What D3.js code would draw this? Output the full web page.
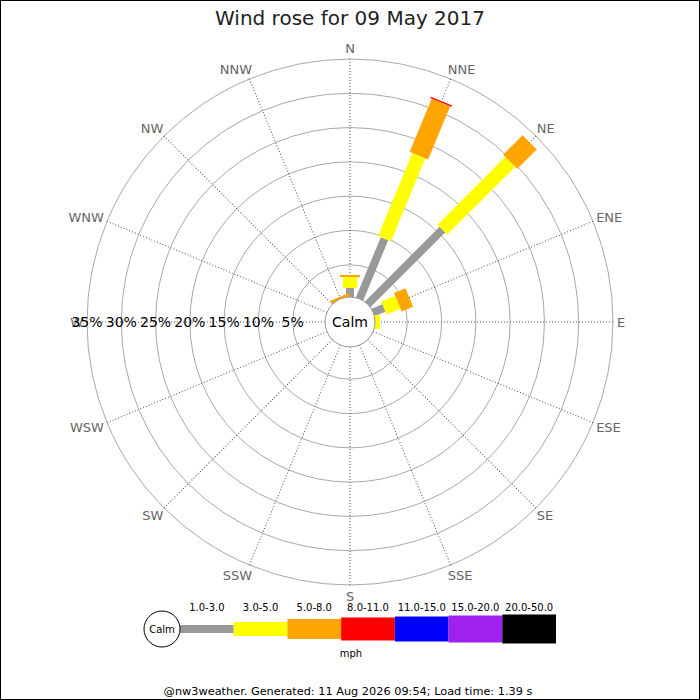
<!DOCTYPE html>
<html>
<head>
<meta charset="utf-8">
<script src="https://cdn.jsdelivr.net/npm/d3@7"></script>
<style>
body { margin: 0; background: #fff; }
text { font-family: "DejaVu Sans", sans-serif; }
</style>
</head>
<body>
<div id="wrapper"></div>
<script>
var width = 700, height = 700;
var cx = 350, cy = 322;
var calmR = 25;

// 16 compass points, clockwise from N
var directions = ["N", "NNE", "NE", "ENE", "E", "ESE", "SE", "SSE",
                  "S", "SSW", "SW", "WSW", "W", "WNW", "NW", "NNW"];

// speed bands (mph) and their colours
var bands = ["1.0-3.0", "3.0-5.0", "5.0-8.0", "8.0-11.0", "11.0-15.0", "15.0-20.0", "20.0-50.0"];
var bandColours = ["#999999", "#ffff00", "#ffa500", "#ff0000", "#0000ff", "#a020f0", "#000000"];

// percentage of the day in each band, per direction (order as directions)
var band1 = [1.6, 9.8, 15.7, 2.0, 0, 0, 0, 0, 0, 0, 0, 0, 0, 0, 0, 0];
var band2 = [1.6, 13.1, 14.0, 2.2, 1.0, 0, 0, 0, 0, 0, 0, 0, 0, 0, 0, 0];
var band3 = [0.3, 8.4, 4.0, 1.8, 0, 0, 0, 0, 0, 0, 0, 0, 0, 0, 0, 0.6];
var band4 = [0, 0.2, 0, 0, 0, 0, 0, 0, 0, 0, 0, 0, 0, 0, 0, 0];
var band5 = [0, 0, 0, 0, 0, 0, 0, 0, 0, 0, 0, 0, 0, 0, 0, 0];
var band6 = [0, 0, 0, 0, 0, 0, 0, 0, 0, 0, 0, 0, 0, 0, 0, 0];
var band7 = [0, 0, 0, 0, 0, 0, 0, 0, 0, 0, 0, 0, 0, 0, 0, 0];
var bandValues = [band1, band2, band3, band4, band5, band6, band7];

var ringTicks = [5, 10, 15, 20, 25, 30, 35];

var svg = d3.select("#wrapper")
    .append("svg")
    .attr("width", width)
    .attr("height", height);

svg.append("rect")
    .attr("x", 0.5).attr("y", 0.5)
    .attr("width", width - 1).attr("height", height - 1)
    .attr("fill", "#fff")
    .attr("stroke", "#000");

svg.append("text")
    .attr("x", 350)
    .attr("y", 25)
    .attr("text-anchor", "middle")
    .style("font-size", "20px")
    .style("fill", "#222")
    .text("Wind rose for 09 May 2017");

var r = d3.scaleLinear().domain([0, 35]).range([23, 263]);
var angle = d3.scalePoint().domain(directions).range([0, 337.5]);
var barWidth = d3.scaleOrdinal().domain(bands).range([8, 14, 20, 23, 25, 27, 29]);

var rose = svg.append("g")
    .attr("transform", "translate(" + cx + "," + cy + ")");

// rings
rose.selectAll("circle.ring")
    .data(ringTicks)
    .enter()
    .append("circle")
    .attr("class", "ring")
    .attr("r", function(d) { return r(d); })
    .attr("fill", "none")
    .attr("stroke", "#a8a8a8")
    .attr("stroke-width", 1);

// spokes
rose.selectAll("line.spoke")
    .data(directions)
    .enter()
    .append("line")
    .attr("class", "spoke")
    .attr("transform", function(d) { return "rotate(" + angle(d) + ")"; })
    .attr("x1", 0).attr("x2", 0)
    .attr("y1", -calmR)
    .attr("y2", -r(35))
    .attr("stroke", "#555")
    .attr("stroke-width", 1)
    .attr("stroke-dasharray", "1,2");

// stacked bars
var stacked = [];
directions.forEach(function(dir, i) {
    var cum = 0;
    bands.forEach(function(b, j) {
        var v = bandValues[j][i];
        if (v > 0) {
            stacked.push({dir: dir, band: b, colour: bandColours[j], lo: cum, hi: cum + v});
        }
        cum += v;
    });
});

rose.selectAll("rect.bar")
    .data(stacked)
    .enter()
    .append("rect")
    .attr("class", "bar")
    .attr("transform", function(d) { return "rotate(" + angle(d.dir) + ")"; })
    .attr("x", function(d) { return -barWidth(d.band) / 2; })
    .attr("y", function(d) { return -r(d.hi); })
    .attr("width", function(d) { return barWidth(d.band); })
    .attr("height", function(d) { return r(d.hi) - r(d.lo); })
    .attr("fill", function(d) { return d.colour; });

// calm circle
rose.append("circle")
    .attr("r", calmR)
    .attr("fill", "#fff")
    .attr("stroke", "#999")
    .attr("stroke-width", 1);

rose.append("text")
    .attr("y", 5)
    .attr("text-anchor", "middle")
    .style("font-size", "14px")
    .style("fill", "#000")
    .text("Calm");

// direction labels
rose.selectAll("text.dir")
    .data(directions)
    .enter()
    .append("text")
    .attr("class", "dir")
    .attr("text-anchor", "middle")
    .attr("dy", "0.36em")
    .style("font-size", "13px")
    .style("fill", "#666")
    .text(function(d) { return d; })
    .each(function(d) {
        var a = angle(d) * Math.PI / 180;
        var s = Math.sin(a);
        var len = this.getComputedTextLength();
        var R = 274;
        var shift = Math.abs(s) < 0.01 ? 0 : Math.sign(s) * (len / 2 - 7);
        d3.select(this)
            .attr("x", R * s + shift)
            .attr("y", -R * Math.cos(a));
    });

// percentage labels along the west axis
rose.selectAll("text.pct")
    .data(ringTicks)
    .enter()
    .append("text")
    .attr("class", "pct")
    .attr("x", function(d) { return -r(d); })
    .attr("y", 5)
    .attr("text-anchor", "middle")
    .style("font-size", "14px")
    .style("fill", "#000")
    .text(function(d) { return d + "%"; });

// legend
var lx = d3.scaleBand().domain(bands).range([180, 556]);
var ly = 629;
var legend = svg.append("g");

legend.selectAll("rect")
    .data(bands)
    .enter()
    .append("rect")
    .attr("x", function(d) { return lx(d); })
    .attr("y", function(d) { return ly - barWidth(d) / 2; })
    .attr("width", lx.bandwidth())
    .attr("height", function(d) { return barWidth(d); })
    .attr("fill", function(d, i) { return bandColours[i]; });

legend.selectAll("text.band")
    .data(bands)
    .enter()
    .append("text")
    .attr("class", "band")
    .attr("x", function(d) { return lx(d) + lx.bandwidth() / 2; })
    .attr("y", 611)
    .attr("text-anchor", "middle")
    .style("font-size", "10px")
    .style("fill", "#000")
    .text(function(d) { return d; });

legend.append("circle")
    .attr("cx", 162).attr("cy", ly)
    .attr("r", 18)
    .attr("fill", "#fff")
    .attr("stroke", "#000");

legend.append("text")
    .attr("x", 162).attr("y", ly + 4)
    .attr("text-anchor", "middle")
    .style("font-size", "10px")
    .text("Calm");

legend.append("text")
    .attr("x", 351).attr("y", 657)
    .attr("text-anchor", "middle")
    .style("font-size", "10px")
    .text("mph");

svg.append("text")
    .attr("x", 348).attr("y", 695)
    .attr("text-anchor", "middle")
    .style("font-size", "11.3px")
    .style("fill", "#000")
    .text("@nw3weather. Generated: 11 Aug 2026 09:54; Load time: 1.39 s");
</script>
</body>
</html>
